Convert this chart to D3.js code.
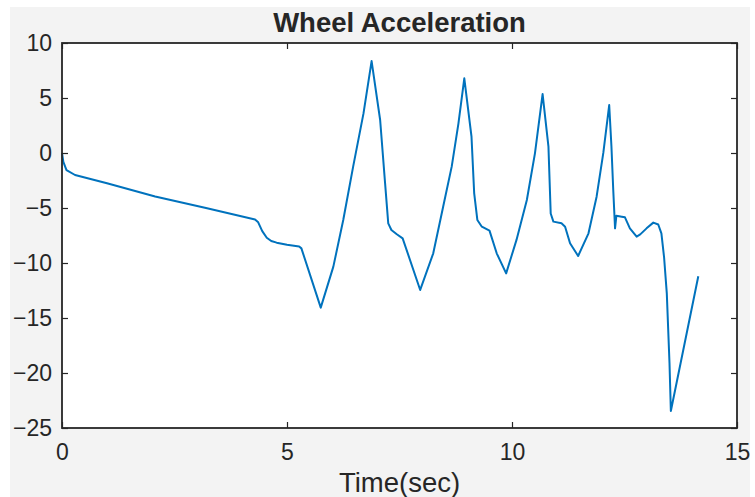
<!doctype html>
<html lang=en>
<head>
<meta charset=utf-8>
<title>Wheel Acceleration</title>
<script src="https://d3js.org/d3.v7.min.js"></script>
<style>
  body { margin: 0; background: #fff; }
  svg text { font-family: "Liberation Sans", Arial, Helvetica, sans-serif; fill: #262626; }
</style>
</head>
<body>
<div id="container"></div>
<script>
    // data
    var timeSec = [0, 0.03, 0.1, 0.29, 1.0, 2.07, 3.2, 4.29, 4.36, 4.45, 4.55, 4.65, 4.77, 5.0, 5.27, 5.32,
        5.75, 6.03, 6.25, 6.47, 6.70, 6.88, 7.07, 7.18, 7.25, 7.32, 7.44, 7.57, 7.96,
        8.25, 8.47, 8.66, 8.81, 8.94, 9.10, 9.16, 9.23, 9.33, 9.50, 9.66, 9.87,
        10.10, 10.33, 10.51, 10.68, 10.81, 10.86, 10.92, 11.10, 11.18, 11.29, 11.47,
        11.70, 11.88, 12.03, 12.16, 12.21, 12.25, 12.29, 12.32, 12.44, 12.51, 12.62, 12.77, 12.85,
        12.99, 13.14, 13.25, 13.32, 13.38, 13.44, 13.50, 13.53, 14.14];
    var accel = [0, -0.8, -1.55, -2.0, -2.75, -3.95, -5.0, -6.05, -6.3, -7.1, -7.7, -8.0, -8.15, -8.35, -8.5, -8.67,
        -14.06, -10.33, -6.09, -1.24, 3.6, 8.36, 3.0, -2.76, -6.4, -7.0, -7.39, -7.76, -12.45,
        -9.12, -4.88, -1.24, 2.7, 6.79, 1.48, -3.67, -6.09, -6.7, -7.06, -9.12, -10.94,
        -7.9, -4.27, -0.03, 5.36, 0.57, -5.5, -6.24, -6.39, -6.7, -8.2, -9.36,
        -7.3, -3.97, 0.03, 4.36, 0.57, -3.36, -6.85, -5.7, -5.79, -5.85, -6.85, -7.6, -7.4,
        -6.85, -6.33, -6.5, -7.3, -9.5, -12.76, -19.1, -23.45, -11.2];
    var xTicks = [0, 5, 10, 15];
    var yTicks = [-25, -20, -15, -10, -5, 0, 5, 10];

    var w = 755, h = 497;
    var m = {left: 62, top: 43, right: 737, bottom: 428};

    var svg = d3.select("div#container").append("svg")
        .attr("width", w).attr("height", h);

    // figure background
    svg.append("rect").attr("x", 10).attr("y", 7).attr("width", 740).attr("height", h - 7)
        .attr("fill", "#f3f3f3");
    svg.append("rect").attr("x", m.left).attr("y", m.top)
        .attr("width", m.right - m.left).attr("height", m.bottom - m.top)
        .attr("fill", "#fff");

    var x = d3.scaleLinear().domain([0, 15]).range([m.left, m.right]);
    var y = d3.scaleLinear().domain([-25, 10]).range([m.bottom, m.top]);

    var points = timeSec.map(function(t, i) { return [t, accel[i]]; });
    var line = d3.line()
        .x(function(d) { return x(d[0]); }).y(function(d) { return y(d[1]); });

    svg.append("path").datum(points)
        .attr("d", line)
        .attr("fill", "none")
        .attr("stroke", "#0072BD")
        .attr("stroke-width", 2)
        .attr("stroke-linejoin", "round");

    // axes, ticks pointing inward, box on
    function styleAxis(g) {
        g.select(".domain").remove();
        g.selectAll(".tick line").attr("stroke", "#262626").attr("stroke-width", 1.2);
        g.selectAll(".tick text").attr("font-size", 23).attr("fill", "#262626")
            .attr("font-family", "Liberation Sans, Arial, sans-serif");
    }
    svg.append("g").attr("transform", "translate(0," + m.bottom + ")")
        .call(d3.axisBottom(x).tickValues(xTicks).tickSize(-6).tickPadding(16).tickFormat(d3.format("d")))
        .call(styleAxis);
    svg.append("g").attr("transform", "translate(" + m.left + ",0)")
        .call(d3.axisLeft(y).tickValues(yTicks).tickSize(-6).tickPadding(10).tickFormat(d3.format("d")))
        .call(styleAxis);
    svg.append("g").attr("transform", "translate(0," + m.top + ")")
        .call(d3.axisTop(x).tickValues(xTicks).tickSize(-6).tickFormat(""))
        .call(styleAxis);
    svg.append("g").attr("transform", "translate(" + m.right + ",0)")
        .call(d3.axisRight(y).tickValues(yTicks).tickSize(-6).tickFormat(""))
        .call(styleAxis);

    svg.append("rect").attr("x", m.left).attr("y", m.top)
        .attr("width", m.right - m.left).attr("height", m.bottom - m.top)
        .attr("fill", "none").attr("stroke", "#262626").attr("stroke-width", 1.8);

    svg.append("text").attr("x", (m.left + m.right) / 2).attr("y", 32)
        .attr("text-anchor", "middle").attr("font-size", 27.5).attr("font-weight", "bold")
        .text("Wheel Acceleration");
    svg.append("text").attr("x", (m.left + m.right) / 2).attr("y", 492)
        .attr("text-anchor", "middle").attr("font-size", 27.5)
        .text("Time(sec)");
</script>
</body>
</html>
